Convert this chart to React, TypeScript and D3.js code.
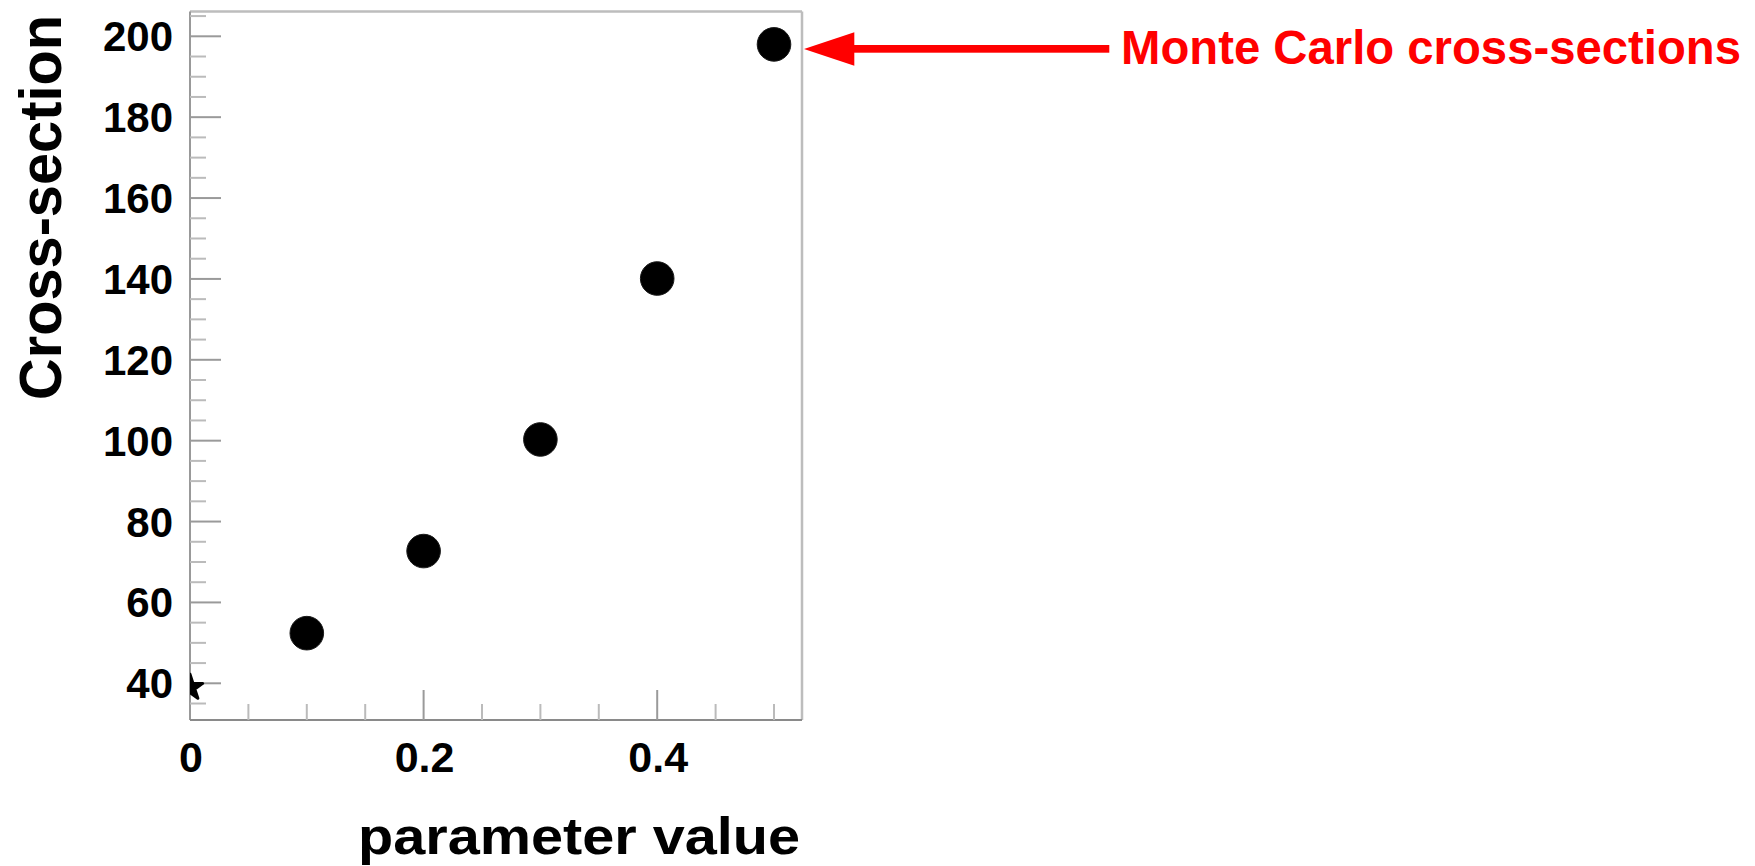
import React from "react";
import * as d3 from "d3";

const paramValues = [0.1, 0.2, 0.3, 0.4, 0.5];
const crossSections = [52.4, 72.7, 100.3, 140.1, 198.0];
const edgePoint = { x: 0, y: 39.2 };
const xTickLabels = ["0", "0.2", "0.4"];
const xMajorTicks = [0, 0.2, 0.4];
const yMajorTicks = [40, 60, 80, 100, 120, 140, 160, 180, 200];
const xTitle = "parameter value";
const yTitle = "Cross-section";
const annotation = "Monte Carlo cross-sections";

const W = 1755;
const H = 866;
const frame = { left: 190, right: 802, top: 11.5, bottom: 720 };
const FONT = "'Liberation Sans', Arial, Helvetica, sans-serif";

export default function App() {
  const x = d3.scaleLinear().domain([0, 0.5]).range([190, 774]);
  const y = d3.scaleLinear().domain([40, 200]).range([683.3, 36.3]);

  const xMinor = d3.range(0, 0.5001, 0.05).filter(
    (v) => !xMajorTicks.some((m) => Math.abs(m - v) < 1e-6)
  );
  const yMinor = d3.range(35, 206, 5).filter((v) => v % 20 !== 0);

  const star = d3.symbol().type(d3.symbolStar).size(200)();

  const tipX = 804;
  const tipY = 49;

  return (
    <svg
      width={W}
      height={H}
      style={{ position: "absolute", left: 0, top: 0, background: "#fff" }}
      fontFamily={FONT}
    >
      <defs>
        <clipPath id="frameClip">
          <rect
            x={frame.left}
            y={frame.top}
            width={frame.right - frame.left}
            height={frame.bottom - frame.top}
          />
        </clipPath>
      </defs>
      <rect x={0} y={0} width={W} height={H} fill="#fff" />

      {/* frame */}
      <line x1={frame.left} x2={frame.right} y1={frame.top} y2={frame.top} stroke="#bdbdbd" strokeWidth={2.5} />
      <line x1={frame.right} x2={frame.right} y1={frame.top} y2={frame.bottom} stroke="#bdbdbd" strokeWidth={2.5} />
      <line x1={frame.left} x2={frame.left} y1={frame.top} y2={frame.bottom} stroke="#999" strokeWidth={2} />
      <line x1={frame.left} x2={frame.right} y1={frame.bottom} y2={frame.bottom} stroke="#8a8a8a" strokeWidth={2} />

      {/* y ticks */}
      {yMajorTicks.map((v) => (
        <g key={"ym" + v}>
          <line x1={frame.left} x2={frame.left + 31} y1={y(v)} y2={y(v)} stroke="#9a9a9a" strokeWidth={2} />
          <text x={173} y={y(v) + 15} textAnchor="end" fontSize={42} fontWeight="bold" fill="#000">
            {String(v)}
          </text>
        </g>
      ))}
      {yMinor.map((v) => (
        <line key={"yn" + v} x1={frame.left} x2={frame.left + 16} y1={y(v)} y2={y(v)} stroke="#bbb" strokeWidth={2} />
      ))}

      {/* x ticks */}
      {xMajorTicks.map((v, i) => (
        <g key={"xm" + v}>
          {v > 0 && (
            <line x1={x(v)} x2={x(v)} y1={frame.bottom} y2={frame.bottom - 30} stroke="#9a9a9a" strokeWidth={2} />
          )}
          <text x={x(v) + 1} y={771.5} textAnchor="middle" fontSize={43} fontWeight="bold" fill="#000">
            {xTickLabels[i]}
          </text>
        </g>
      ))}
      {xMinor.map((v) => (
        <line key={"xn" + v} x1={x(v)} x2={x(v)} y1={frame.bottom} y2={frame.bottom - 16} stroke="#bbb" strokeWidth={2} />
      ))}

      {/* data */}
      <g clipPath="url(#frameClip)">
        <path
          d={star || ""}
          transform={`translate(${x(edgePoint.x)},${y(edgePoint.y) + 1})`}
          fill="#000"
          stroke="#000"
          strokeWidth={3}
          strokeLinejoin="round"
        />
        {paramValues.map((p, i) => (
          <circle key={p} cx={x(p)} cy={y(crossSections[i])} r={16.8} fill="#000" stroke="#1a1a1a" strokeWidth={1} />
        ))}
      </g>

      {/* axis titles */}
      <text
        x={358}
        y={854}
        fontSize={52}
        fontWeight="bold"
        fill="#000"
        textLength={442}
        lengthAdjust="spacingAndGlyphs"
      >
        {xTitle}
      </text>
      <text
        transform={`translate(61,400) rotate(-90)`}
        x={0}
        y={0}
        fontSize={60}
        fontWeight="bold"
        fill="#000"
        textLength={385}
        lengthAdjust="spacingAndGlyphs"
      >
        {yTitle}
      </text>

      {/* annotation arrow */}
      <g fill="#ff0000">
        <path d={`M${tipX},${tipY} L854.3,32.3 L854.3,65.7 Z`} />
        <rect x={853} y={45} width={1109.3 - 853} height={7.7} />
      </g>
      <text
        x={1121}
        y={64.3}
        fontSize={47.5}
        fontWeight="bold"
        fill="#ff0000"
        textLength={620}
        lengthAdjust="spacingAndGlyphs"
      >
        {annotation}
      </text>
    </svg>
  );
}
